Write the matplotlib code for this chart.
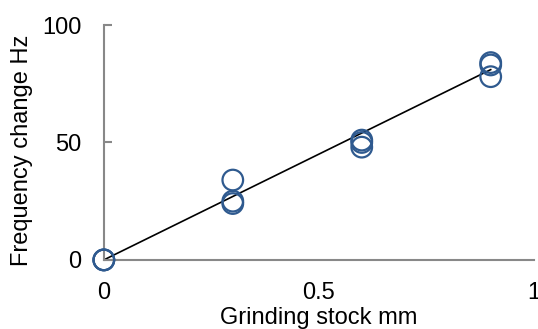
import matplotlib
matplotlib.use("Agg")
import matplotlib.pyplot as plt

plt.rcParams["font.family"] = ["Liberation Sans", "DejaVu Sans"]

# Measured points (grinding stock mm, frequency change Hz)
stock = [0, 0, 0, 0.3, 0.3, 0.3, 0.6, 0.6, 0.6, 0.9, 0.9, 0.9]
freq = [0, 0, 0, 34, 25, 24, 51, 50, 48, 84, 83, 78]

# Fitted line
fit_x = [0, 0.9]
fit_y = [0, 81]

fig = plt.figure(figsize=(5.38, 3.29), dpi=100)
ax = fig.add_axes([0.193, 0.21, 0.799, 0.714])

ax.plot(fit_x, fit_y, color="black", lw=1.2, zorder=2)
ax.scatter(stock, freq, s=220, facecolors="none", edgecolors="#2F5A8F",
           linewidths=1.6, zorder=3, clip_on=False)

ax.set_xlim(0, 1)
ax.set_ylim(0, 100)
ax.set_xticks([0, 0.5, 1])
ax.set_xticklabels(["0", "0.5", "1"])
ax.set_yticks([0, 50, 100])

for s in ["top", "right"]:
    ax.spines[s].set_visible(False)
for s in ["left", "bottom"]:
    ax.spines[s].set_color("#888888")
    ax.spines[s].set_linewidth(1.5)

ax.tick_params(axis="x", length=0, pad=16, labelsize=17)
ax.tick_params(axis="y", direction="in", length=6, width=1.5, color="#888888",
               pad=16, labelsize=17)

ax.set_xlabel("Grinding stock mm", fontsize=17)
ax.set_ylabel("Frequency change Hz", fontsize=17)
ax.xaxis.set_label_coords(0.5, -0.202)
ax.yaxis.set_label_coords(-0.165, 0.468)

fig.savefig("out.png", dpi=100)
